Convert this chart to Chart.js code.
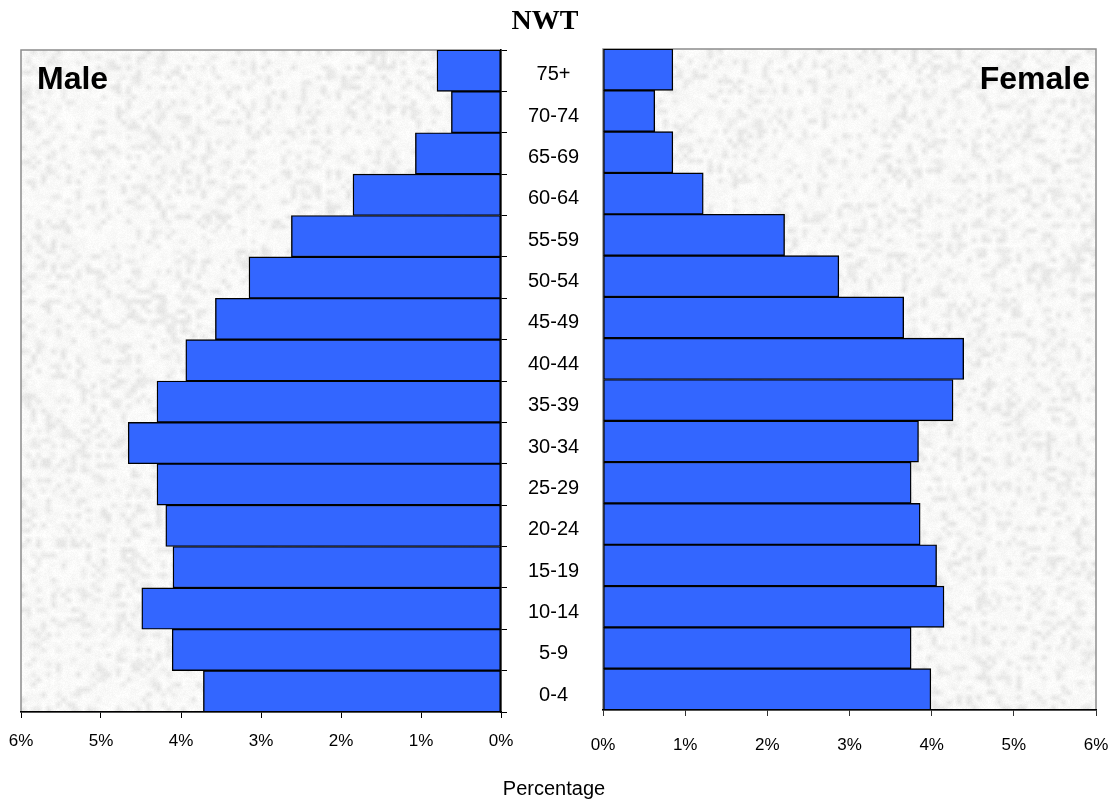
<!DOCTYPE html>
<html>
<head>
<meta charset="utf-8">
<script src="https://cdn.jsdelivr.net/npm/chart.js@4.4.0/dist/chart.umd.min.js"></script>
<style>
html,body{margin:0;padding:0;background:#fff;width:1115px;height:800px;overflow:hidden;font-family:"Liberation Sans",Arial,sans-serif}
#wrapL{position:absolute;left:0;top:0;width:600px;height:800px}
#wrapR{position:absolute;left:560px;top:0;width:555px;height:800px}
.txt{position:absolute;white-space:nowrap;color:#000;line-height:1}
#title{left:0;width:1090px;text-align:center;top:6px;font-family:"Liberation Serif","Times New Roman",serif;font-weight:bold;font-size:28px}
#male{left:37px;top:62px;font-weight:bold;font-size:32px}
#female{right:25px;top:62px;font-weight:bold;font-size:32px}
#xtitle{left:0;width:1108px;text-align:center;top:778px;font-size:20px}
</style>
</head>
<body>
<div id="wrapL"><canvas id="cL"></canvas></div>
<div id="wrapR"><canvas id="cR"></canvas></div>
<div class="txt" id="title">NWT</div>
<div class="txt" id="male">Male</div>
<div class="txt" id="female">Female</div>
<div class="txt" id="xtitle">Percentage</div>
<script>
// ---- data ----
const ageGroups = ['0-4','5-9','10-14','15-19','20-24','25-29','30-34','35-39','40-44','45-49','50-54','55-59','60-64','65-69','70-74','75+'];
const malePct   = [3.72, 4.11, 4.49, 4.10, 4.19, 4.30, 4.66, 4.30, 3.94, 3.57, 3.15, 2.62, 1.85, 1.07, 0.62, 0.80];
const femalePct = [3.99, 3.75, 4.15, 4.06, 3.86, 3.75, 3.84, 4.26, 4.39, 3.66, 2.87, 2.21, 1.22, 0.85, 0.63, 0.85];
const xTickMin = 0, xTickMax = 6, xTickStep = 1;

// ---- deterministic paper texture (styling only) ----
function hash(i){ const s = Math.sin(i*127.1 + 311.7)*43758.5453; return s - Math.floor(s); }
function makeTexture(w, h, seed){
  const sw = Math.ceil(w/5), sh = Math.ceil(h/5);
  const small = document.createElement('canvas'); small.width = sw; small.height = sh;
  const sc = small.getContext('2d'); const img = sc.createImageData(sw, sh);
  for (let i = 0; i < sw*sh; i++){
    const r = hash(i + seed);
    const v = Math.round(r > 0.75 ? 228 + (1 - r)*40 : 246 + r*10);
    img.data[i*4] = v; img.data[i*4+1] = v; img.data[i*4+2] = v - 1; img.data[i*4+3] = 255;
  }
  sc.putImageData(img, 0, 0);
  const big = document.createElement('canvas'); big.width = w; big.height = h;
  const bc = big.getContext('2d'); bc.imageSmoothingEnabled = true;
  bc.drawImage(small, 0, 0, w, h);
  const bi = bc.getImageData(0, 0, w, h);
  for (let i = 0; i < w*h; i++){
    const d = (hash(i*0.37 + seed + 9000) - 0.5)*8;
    for (let k = 0; k < 3; k++) bi.data[i*4+k] = Math.max(0, Math.min(255, bi.data[i*4+k] + d));
  }
  bc.putImageData(bi, 0, 0);
  return big;
}
const texL = makeTexture(480, 662, 11);
const texR = makeTexture(493, 661, 777);

function bgPlugin(tex){
  return {
    id: 'paperBg',
    beforeDraw(chart){
      const a = chart.chartArea, c = chart.ctx;
      c.save();
      c.drawImage(tex, a.left, a.top, a.right - a.left, a.bottom - a.top);
      c.strokeStyle = '#8c8c8c'; c.lineWidth = 1.5;
      c.strokeRect(a.left, a.top, a.right - a.left, a.bottom - a.top);
      c.restore();
    }
  };
}

const tickFont = {family: '"Liberation Sans", Arial, sans-serif', size: 17};
const catFont  = {family: '"Liberation Sans", Arial, sans-serif', size: 20};
const barStyle = {backgroundColor: '#3366FF', borderColor: '#000', borderWidth: 1.4, borderSkipped: false,
                  categoryPercentage: 1.0, barPercentage: 1.0};

// ---- Male (left) ----
new Chart(document.getElementById('cL'), {
  type: 'bar',
  data: {labels: ageGroups, datasets: [Object.assign({label: 'Male', data: malePct}, barStyle)]},
  options: {
    indexAxis: 'y', responsive: true, maintainAspectRatio: false, animation: false,
    layout: {padding: {left: 21, top: 50, right: 0, bottom: 0}},
    plugins: {legend: {display: false}, tooltip: {enabled: false}, title: {display: false}},
    scales: {
      x: {
        reverse: true, min: xTickMin, max: xTickMax,
        ticks: {stepSize: xTickStep, color: '#000', font: tickFont, padding: 13, maxRotation: 0,
                callback: v => v + '%'},
        grid: {drawOnChartArea: false, tickLength: 6, color: '#000', lineWidth: 1},
        border: {color: '#000', width: 1.5},
        afterFit: s => { s.height = 88; s.paddingLeft = 0; s.paddingRight = 0; }
      },
      y: {
        position: 'right', reverse: true,
        ticks: {color: '#000', font: catFont, padding: 21, crossAlign: 'center', autoSkip: false, labelOffset: 4},
        grid: {drawOnChartArea: false, tickLength: 6, color: '#000', lineWidth: 1, offset: true},
        border: {color: '#000', width: 1.5},
        afterFit: s => { s.width = 99; s.paddingTop = 0; s.paddingBottom = 0; }
      }
    }
  },
  plugins: [bgPlugin(texL)]
});

// ---- Female (right) ----
new Chart(document.getElementById('cR'), {
  type: 'bar',
  data: {labels: ageGroups, datasets: [Object.assign({label: 'Female', data: femalePct}, barStyle)]},
  options: {
    indexAxis: 'y', responsive: true, maintainAspectRatio: false, animation: false,
    layout: {padding: {left: 43, top: 49, right: 19, bottom: 0}},
    plugins: {legend: {display: false}, tooltip: {enabled: false}, title: {display: false}},
    scales: {
      x: {
        min: xTickMin, max: xTickMax,
        ticks: {stepSize: xTickStep, color: '#000', font: tickFont, padding: 19, maxRotation: 0,
                callback: v => v + '%'},
        grid: {drawOnChartArea: false, tickLength: 6, color: '#333', lineWidth: 1},
        border: {color: '#000', width: 1.5},
        afterFit: s => { s.height = 90; s.paddingLeft = 0; s.paddingRight = 0; }
      },
      y: {display: false, reverse: true}
    }
  },
  plugins: [bgPlugin(texR)]
});
</script>
</body>
</html>
